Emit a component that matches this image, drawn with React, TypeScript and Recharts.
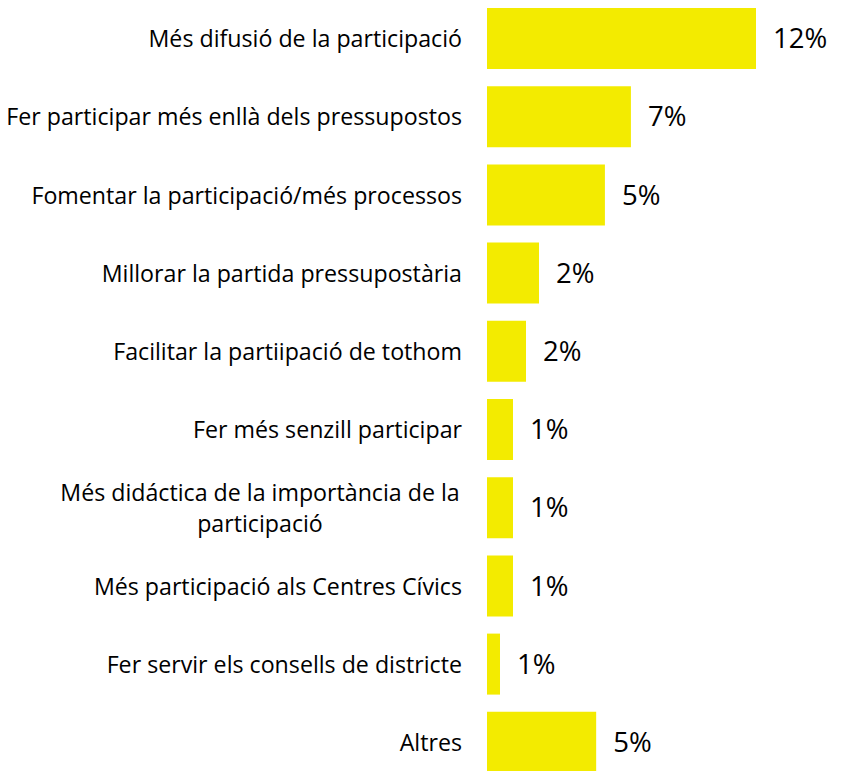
import { Bar, BarChart, LabelList, XAxis, YAxis } from "recharts";

const categories = [
  "Més difusió de la participació",
  "Fer participar més enllà dels pressupostos",
  "Fomentar la participació/més processos",
  "Millorar la partida pressupostària",
  "Facilitar la partiipació de tothom",
  "Fer més senzill participar",
  "Més didáctica de la importància de la participació",
  "Més participació als Centres Cívics",
  "Fer servir els consells de districte",
  "Altres",
];

const values = [12.0, 6.42, 5.26, 2.32, 1.74, 1.16, 1.16, 1.16, 0.58, 4.87];

const valueLabels = ["12%", "7%", "5%", "2%", "2%", "1%", "1%", "1%", "1%", "5%"];

// labels that wrap onto two lines
const wrappedLines: Record<string, string[]> = {
  "Més didáctica de la importància de la participació": [
    "Més didáctica de la importància de la",
    "participació",
  ],
};

const data = categories.map((name, i) => ({
  name,
  value: values[i],
  label: valueLabels[i],
}));

const FONT = "'Open Sans', sans-serif";

function CategoryTick(props: any) {
  const { x, y, payload } = props;
  const lines = wrappedLines[payload.value] ?? [payload.value];
  const lineH = 31;
  const startY = y - ((lines.length - 1) * lineH) / 2;
  const multi = lines.length > 1;
  return (
    <text
      x={x}
      y={startY}
      textAnchor={multi ? "middle" : "end"}
      fill="#000"
      fontSize={23.2}
      fontFamily={FONT}
      dominantBaseline="central"
    >
      {lines.map((line: string, i: number) => (
        <tspan key={i} x={multi ? x - 202 : x} dy={i === 0 ? 0 : lineH}>
          {line}
        </tspan>
      ))}
    </text>
  );
}

export default function App() {
  return (
    <div style={{ position: "absolute", left: 0, top: -1, background: "#fff" }}>
      <BarChart
        width={845}
        height={782}
        data={data}
        layout="vertical"
        margin={{ top: 0, right: 0, bottom: 0, left: 0 }}
        barCategoryGap={0}
      >
        <XAxis type="number" domain={[0, 15.97]} hide />
        <YAxis
          type="category"
          dataKey="name"
          width={487}
          axisLine={false}
          tickLine={false}
          tickSize={0}
          tickMargin={25}
          interval={0}
          tick={<CategoryTick />}
        />
        <Bar dataKey="value" fill="#F3EB00" barSize={61} isAnimationActive={false}>
          <LabelList
            dataKey="label"
            position="right"
            offset={17}
            fill="#000"
            fontSize={27.5}
            fontFamily={FONT}
          />
        </Bar>
      </BarChart>
    </div>
  );
}
